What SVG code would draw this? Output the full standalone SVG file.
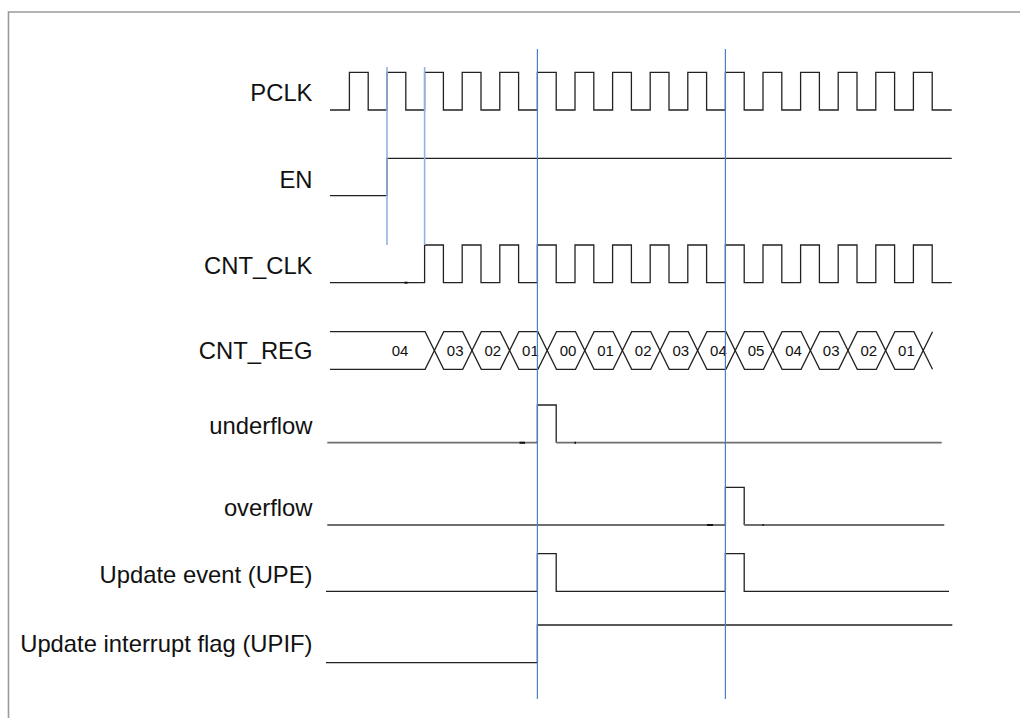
<svg xmlns="http://www.w3.org/2000/svg" width="1020" height="718" viewBox="0 0 1020 718">
<style>
.lbl{font-family:"Liberation Sans",Arial,sans-serif;font-size:23.8px;fill:#111;text-anchor:end}
.val{font-family:"Liberation Sans",Arial,sans-serif;font-size:15px;fill:#111;text-anchor:middle}
.w{fill:none;stroke:#222;stroke-width:1.3}
.wg{fill:none;stroke:#6e6e6e;stroke-width:1.8}
.tick{fill:none;stroke:#111;stroke-width:2}
.gl{stroke:#8fb4e3;stroke-width:1.6}
.gd{stroke:#4a7fcc;stroke-width:1.2}
</style>
<rect width="1020" height="718" fill="#fff"/>
<path d="M8.5 718 V12 H1020" fill="none" stroke="#9a9a9a" stroke-width="1.6"/>

<g id="PCLK">
<text class="lbl" x="312.5" y="101">PCLK</text>
<path class="w" d="M330 110 H349.4 V72.3 H368.2 V110 H387 V72.3 H405.8 V110 H424.6 V72.3 H443.4 V110 H462.2 V72.3 H481 V110 H499.8 V72.3 H518.6 V110 H537.4 V72.3 H556.2 V110 H575 V72.3 H593.8 V110 H612.6 V72.3 H631.4 V110 H650.2 V72.3 H669 V110 H687.8 V72.3 H706.6 V110 H725.4 V72.3 H744.2 V110 H763 V72.3 H781.8 V110 H800.6 V72.3 H819.4 V110 H838.2 V72.3 H857 V110 H875.8 V72.3 H894.6 V110 H913.4 V72.3 H932.2 V110 H951.7"/>
</g>

<g id="EN">
<text class="lbl" x="312.5" y="188">EN</text>
<path class="w" d="M330 195.7 H387 V158.3 H951.7"/>
</g>

<g id="CNT_CLK">
<text class="lbl" x="312.5" y="274">CNT_CLK</text>
<path class="w" d="M330 282.7 H424.6 V245 H443.4 V282.7 H462.2 V245 H481 V282.7 H499.8 V245 H518.6 V282.7 H537.4 V245 H556.2 V282.7 H575 V245 H593.8 V282.7 H612.6 V245 H631.4 V282.7 H650.2 V245 H669 V282.7 H687.8 V245 H706.6 V282.7 H725.4 V245 H744.2 V282.7 H763 V245 H781.8 V282.7 H800.6 V245 H819.4 V282.7 H838.2 V245 H857 V282.7 H875.8 V245 H894.6 V282.7 H913.4 V245 H932.2 V282.7 H951.7"/>
<path class="tick" d="M404.5 282.7 H407.5"/>
</g>

<g id="CNT_REG">
<text class="lbl" x="312.5" y="359">CNT_REG</text>
<path class="w" d="M330 331.7 H425.1 L434.4 350.5 L443.7 331.7 H462.7 L472 350.5 L481.3 331.7 H500.3 L509.6 350.5 L518.9 331.7 H537.9 L547.2 350.5 L556.5 331.7 H575.5 L584.8 350.5 L594.1 331.7 H613.1 L622.4 350.5 L631.7 331.7 H650.7 L660 350.5 L669.3 331.7 H688.3 L697.6 350.5 L706.9 331.7 H725.9 L735.2 350.5 L744.5 331.7 H763.5 L772.8 350.5 L782.1 331.7 H801.1 L810.4 350.5 L819.7 331.7 H838.7 L848 350.5 L857.3 331.7 H876.3 L885.6 350.5 L894.9 331.7 H913.9 L923.2 350.5 L932.5 331.7"/>
<path class="w" d="M330 369.3 H425.1 L434.4 350.5 L443.7 369.3 H462.7 L472 350.5 L481.3 369.3 H500.3 L509.6 350.5 L518.9 369.3 H537.9 L547.2 350.5 L556.5 369.3 H575.5 L584.8 350.5 L594.1 369.3 H613.1 L622.4 350.5 L631.7 369.3 H650.7 L660 350.5 L669.3 369.3 H688.3 L697.6 350.5 L706.9 369.3 H725.9 L735.2 350.5 L744.5 369.3 H763.5 L772.8 350.5 L782.1 369.3 H801.1 L810.4 350.5 L819.7 369.3 H838.7 L848 350.5 L857.3 369.3 H876.3 L885.6 350.5 L894.9 369.3 H913.9 L923.2 350.5 L932.5 369.3"/>
<text class="val" x="400" y="356">04</text>
<text class="val" x="455.2" y="356">03</text>
<text class="val" x="492.8" y="356">02</text>
<text class="val" x="530.4" y="356">01</text>
<text class="val" x="568" y="356">00</text>
<text class="val" x="605.6" y="356">01</text>
<text class="val" x="643.2" y="356">02</text>
<text class="val" x="680.8" y="356">03</text>
<text class="val" x="718.4" y="356">04</text>
<text class="val" x="756" y="356">05</text>
<text class="val" x="793.6" y="356">04</text>
<text class="val" x="831.2" y="356">03</text>
<text class="val" x="868.8" y="356">02</text>
<text class="val" x="906.4" y="356">01</text>
</g>

<g id="underflow">
<text class="lbl" x="312.5" y="434">underflow</text>
<path class="wg" d="M327.3 442.7 H537.4"/>
<path class="w" d="M537.4 442.7 V405 H556.2 V442.7"/>
<path class="wg" d="M556.2 442.7 H941.7"/>
<path class="tick" d="M519.5 442.7 H525 M574.5 442.7 H576"/>
</g>

<g id="overflow">
<text class="lbl" x="312.5" y="516">overflow</text>
<path class="wg" d="M327.3 525 H725.4"/>
<path class="w" d="M725.4 525 V487.3 H744.2 V525"/>
<path class="wg" d="M744.2 525 H944.3"/>
<path class="tick" d="M707 525 H713 M762.5 525 H763.8"/>
</g>

<g id="UPE">
<text class="lbl" x="312.5" y="583">Update event (UPE)</text>
<path class="w" d="M326 591.3 H537.4 V553.7 H556.2 V591.3 H725.4 V553.7 H744.2 V591.3 H949"/>
</g>

<g id="UPIF">
<text class="lbl" x="312.5" y="652">Update interrupt flag (UPIF)</text>
<path class="w" d="M326 662.7 H537.4 V625 H952.3"/>
</g>

<g id="connectors">
<line class="gl" x1="387" y1="67" x2="387" y2="245"/>
<line class="gl" x1="424.6" y1="67" x2="424.6" y2="245"/>
<line class="gd" x1="537.4" y1="49" x2="537.4" y2="699"/>
<line class="gd" x1="725.4" y1="49" x2="725.4" y2="699"/>
</g>
</svg>
